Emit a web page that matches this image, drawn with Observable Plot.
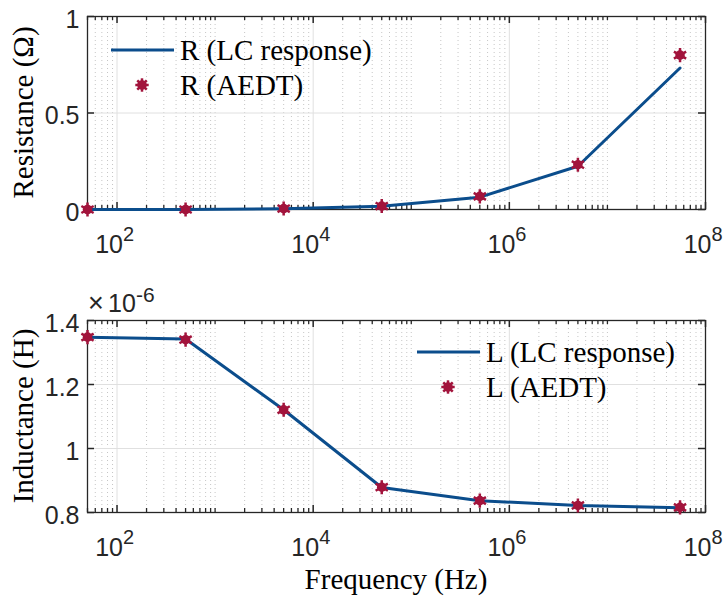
<!DOCTYPE html>
<html><head><meta charset="utf-8">
<script src="https://cdn.jsdelivr.net/npm/d3@7"></script>
<script src="https://cdn.jsdelivr.net/npm/@observablehq/plot@0.6"></script>
<style>
body{margin:0;background:#fff;}
#chart{position:relative;width:727px;height:599px;background:#fff;}
#chart svg{position:absolute;left:0;overflow:visible;}
</style></head><body><div id="chart"></div>
<script>
// ---- data ----
const freq = [50, 500, 5000, 50000, 500000, 5000000, 55000000];
const rLC = [0, 0, 0.004, 0.017, 0.064, 0.224, 0.733];
const rAEDT = [0, 0, 0.005, 0.018, 0.068, 0.232, 0.80];
const lLC = [1.348, 1.342, 1.121, 0.878, 0.837, 0.822, 0.815];
const lAEDT = [1.348, 1.340, 1.121, 0.879, 0.837, 0.822, 0.816];
const xMajor = [1e2, 1e4, 1e6, 1e8];
const xMajorExp = ["2", "4", "6", "8"];
const rTicks = [0, 0.5, 1];
const rTickLabels = ["0", "0.5", "1"];
const lTicks = [0.8, 1, 1.2, 1.4];
const lTickLabels = ["0.8", "1", "1.2", "1.4"];
const xMinor = [];
for (let k = 1; k <= 7; k++) for (let m = 1; m <= 9; m++) {
  const v = m * 10 ** k;
  if (v >= 50 && v < 1e8 && !xMajor.includes(v)) xMinor.push(v);
}

const BLUE = "#0b4d8c", RED = "#a2143c", DARK = "#262626";
const SANS = "'Liberation Sans', Arial, Helvetica, sans-serif";
const SERIF = "'Liberation Serif', 'Times New Roman', serif";
const W = 727, ML = 87, MR = 22;
const PW = W - ML - MR;

function panel({height, mt, mb, yDomain, yTicks, yLabels, lc, aedt}) {
  const PH = height - mt - mb;
  const rowsLC = freq.map((f, i) => ({f, v: lc[i]}));
  const rowsA = freq.map((f, i) => ({f, v: aedt[i]}));
  const marks = [
    Plot.ruleX(xMinor, {stroke: "#c6c6c6", strokeWidth: 1, strokeDasharray: "1,3"}),
    Plot.ruleX(xMajor, {stroke: "#e0e0e0", strokeWidth: 1}),
    Plot.ruleY(yTicks, {stroke: "#e0e0e0", strokeWidth: 1}),
    Plot.tickX(xMajor, {x: d => d, insetTop: PH - 7, stroke: DARK, strokeWidth: 1.5}),
    Plot.tickX(xMajor, {x: d => d, insetBottom: PH - 7, stroke: DARK, strokeWidth: 1.5}),
    Plot.tickX(xMinor, {x: d => d, insetTop: PH - 4, stroke: DARK, strokeWidth: 1.3}),
    Plot.tickX(xMinor, {x: d => d, insetBottom: PH - 4, stroke: DARK, strokeWidth: 1.3}),
    Plot.tickY(yTicks, {y: d => d, insetRight: PW - 7, stroke: DARK, strokeWidth: 1.5}),
    Plot.tickY(yTicks, {y: d => d, insetLeft: PW - 7, stroke: DARK, strokeWidth: 1.5}),
    Plot.frame({stroke: DARK, strokeWidth: 1.3}),
    Plot.line(rowsLC, {x: "f", y: "v", stroke: BLUE, strokeWidth: 3}),
    Plot.dot(rowsA, {x: "f", y: "v", r: 4.8, fill: RED, stroke: null}),
    Plot.dot(rowsA, {x: "f", y: "v", r: 6.7, symbol: "asterisk", stroke: RED, strokeWidth: 2.5}),
    Plot.text(yTicks, {y: d => d, text: (d, i) => yLabels[i], frameAnchor: "left", textAnchor: "end",
      dx: -8, dy: 3, fontSize: 25, fill: DARK}),
    Plot.text(xMajor, {x: d => d, text: () => "10", frameAnchor: "bottom", textAnchor: "end", lineAnchor: "bottom",
      dx: 6, dy: 43, fontSize: 25, fill: DARK}),
    Plot.text(xMajor, {x: d => d, text: (d, i) => xMajorExp[i], frameAnchor: "bottom", textAnchor: "start", lineAnchor: "bottom",
      dx: 6, dy: 31, fontSize: 20, fill: DARK})
  ];
  return Plot.plot({
    width: W, height, marginLeft: ML, marginRight: MR, marginTop: mt, marginBottom: mb,
    style: {background: "transparent", overflow: "visible", fontFamily: SANS},
    x: {type: "log", domain: [freq[0], 1e8], axis: null},
    y: {domain: yDomain, axis: null},
    marks
  });
}

function addText(svg, x, y, str, {size = 29, family = SERIF, anchor = "start", rotate = 0, fill = "#000"} = {}) {
  d3.select(svg).append("text")
    .attr("transform", `translate(${x},${y})` + (rotate ? ` rotate(${rotate})` : ""))
    .attr("text-anchor", anchor).attr("font-family", family).attr("font-size", size)
    .attr("fill", fill).text(str);
}

function legend(svg, x0, y0, lineLabel, dotLabel) {
  const g = d3.select(svg).append("g");
  g.append("line").attr("x1", x0).attr("x2", x0 + 63).attr("y1", y0).attr("y2", y0)
    .attr("stroke", BLUE).attr("stroke-width", 3);
  const cx = x0 + 31, cy = y0 + 35;
  g.append("circle").attr("cx", cx).attr("cy", cy).attr("r", 4.8).attr("fill", RED);
  for (let a = 0; a < 180; a += 45) {
    const t = a * Math.PI / 180;
    g.append("line").attr("x1", cx - 6.7 * Math.cos(t)).attr("y1", cy - 6.7 * Math.sin(t))
      .attr("x2", cx + 6.7 * Math.cos(t)).attr("y2", cy + 6.7 * Math.sin(t))
      .attr("stroke", RED).attr("stroke-width", 2.5);
  }
  addText(svg, x0 + 69, y0 + 10, lineLabel);
  addText(svg, x0 + 69, y0 + 45, dotLabel);
}

const chartDiv = document.getElementById("chart");
const topSvg = panel({height: 300, mt: 16, mb: 91, yDomain: [0, 1], yTicks: rTicks, yLabels: rTickLabels,
  lc: rLC, aedt: rAEDT});
topSvg.style.top = "0px";
legend(topSvg, 111, 50, "R (LC response)", "R (AEDT)");
addText(topSvg, 33, 112.5, "Resistance (Ω)", {anchor: "middle", rotate: -90});
chartDiv.appendChild(topSvg);

const botSvg = panel({height: 299, mt: 20, mb: 87, yDomain: [0.8, 1.4], yTicks: lTicks, yLabels: lTickLabels,
  lc: lLC, aedt: lAEDT});
botSvg.style.top = "300px";
legend(botSvg, 417, 52, "L (LC response)", "L (AEDT)");
addText(botSvg, 33, 116, "Inductance (H)", {anchor: "middle", rotate: -90});
addText(botSvg, 396, 289, "Frequency (Hz)", {anchor: "middle"});
addText(botSvg, 88, 12, "×", {size: 27, family: SANS, fill: DARK});
addText(botSvg, 108, 12, "10", {size: 25, family: SANS, fill: DARK});
addText(botSvg, 136, 2, "-6", {size: 21, family: SANS, fill: DARK});
chartDiv.appendChild(botSvg);
</script></body></html>
